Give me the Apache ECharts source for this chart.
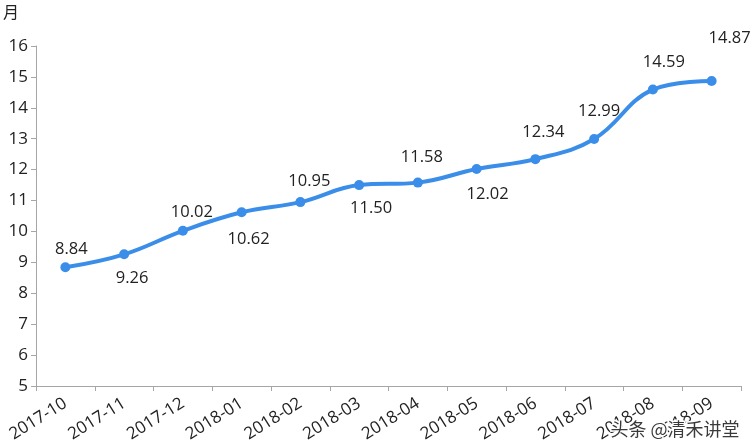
<!DOCTYPE html>
<html>
<head>
<meta charset="utf-8">
<script src="https://cdn.jsdelivr.net/npm/echarts@6/dist/echarts.min.js"></script>
<style>html,body{margin:0;padding:0;background:#fff;}#c{width:753px;height:448px;}</style>
</head>
<body>
<div id="c"></div>
<script>
const categories = ['2017-10','2017-11','2017-12','2018-01','2018-02','2018-03','2018-04','2018-05','2018-06','2018-07','2018-08','2018-09'];
const values = [8.84, 9.26, 10.02, 10.62, 10.95, 11.50, 11.58, 12.02, 12.34, 12.99, 14.59, 14.87];
const yMin = 5, yMax = 16, yInterval = 1;
const unitName = '月';
const watermark = '头条 @清禾讲堂';

// label placement style (not data)
const labelStyle = [
  ['top',[6,0]],['bottom',[8,5]],['top',[9,0]],['bottom',[7,9]],
  ['top',[9,-2]],['bottom',[12,5]],['top',[4,-7]],['bottom',[11,7]],
  ['top',[8,-8]],['top',[5,-9]],['top',[11,-9]],['top',[18,-24]]
];

const font = '"Open Sans", "Noto Sans", sans-serif';
const chart = echarts.init(document.getElementById('c'), null, {renderer:'canvas'});
chart.setOption({
  animation:false,
  grid:{left:36, right:12, top:46, bottom:62, containLabel:false},
  xAxis:{
    type:'category', data:categories, boundaryGap:true,
    axisLine:{lineStyle:{color:'#a6a6a6', width:1}},
    axisTick:{show:true, length:5, lineStyle:{color:'#a6a6a6'}, alignWithLabel:false},
    axisLabel:{rotate:32, interval:0, margin:16, color:'#222', fontSize:17, fontFamily:font, hideOverlap:false, align:'right', verticalAlign:'middle'}
  },
  yAxis:{
    type:'value', min:yMin, max:yMax, interval:yInterval,
    name:unitName, nameLocation:'end', nameGap:26,
    nameTextStyle:{color:'#222', fontSize:16, fontFamily:'"Noto Sans CJK SC", sans-serif', align:'right', padding:[0,17,0,0]},
    axisLine:{show:true, lineStyle:{color:'#a6a6a6', width:1}},
    axisTick:{show:true, length:5, lineStyle:{color:'#a6a6a6'}},
    axisLabel:{color:'#222', fontSize:17, fontFamily:font, margin:8},
    splitLine:{show:false}
  },
  series:[{
    type:'line', smooth:0.4,
    data: values.map((v,i)=>({
      value:v,
      label:{position:labelStyle[i][0], offset:labelStyle[i][1]}
    })),
    symbol:'circle', symbolSize:10,
    lineStyle:{color:'#3a8ee9', width:4},
    itemStyle:{color:'#3a8ee9'},
    label:{show:true, color:'#222', fontSize:16.5, fontFamily:font, distance:5,
      formatter:p=>p.value.toFixed(2)}
  }],
  graphic:[{
    type:'text', right:12, bottom:8, z:100,
    style:{text:watermark, fill:'#3a3a3a', stroke:'#ffffff', lineWidth:3,
      font:'18px "Noto Sans CJK SC", sans-serif'}
  }]
});
</script>
</body>
</html>
